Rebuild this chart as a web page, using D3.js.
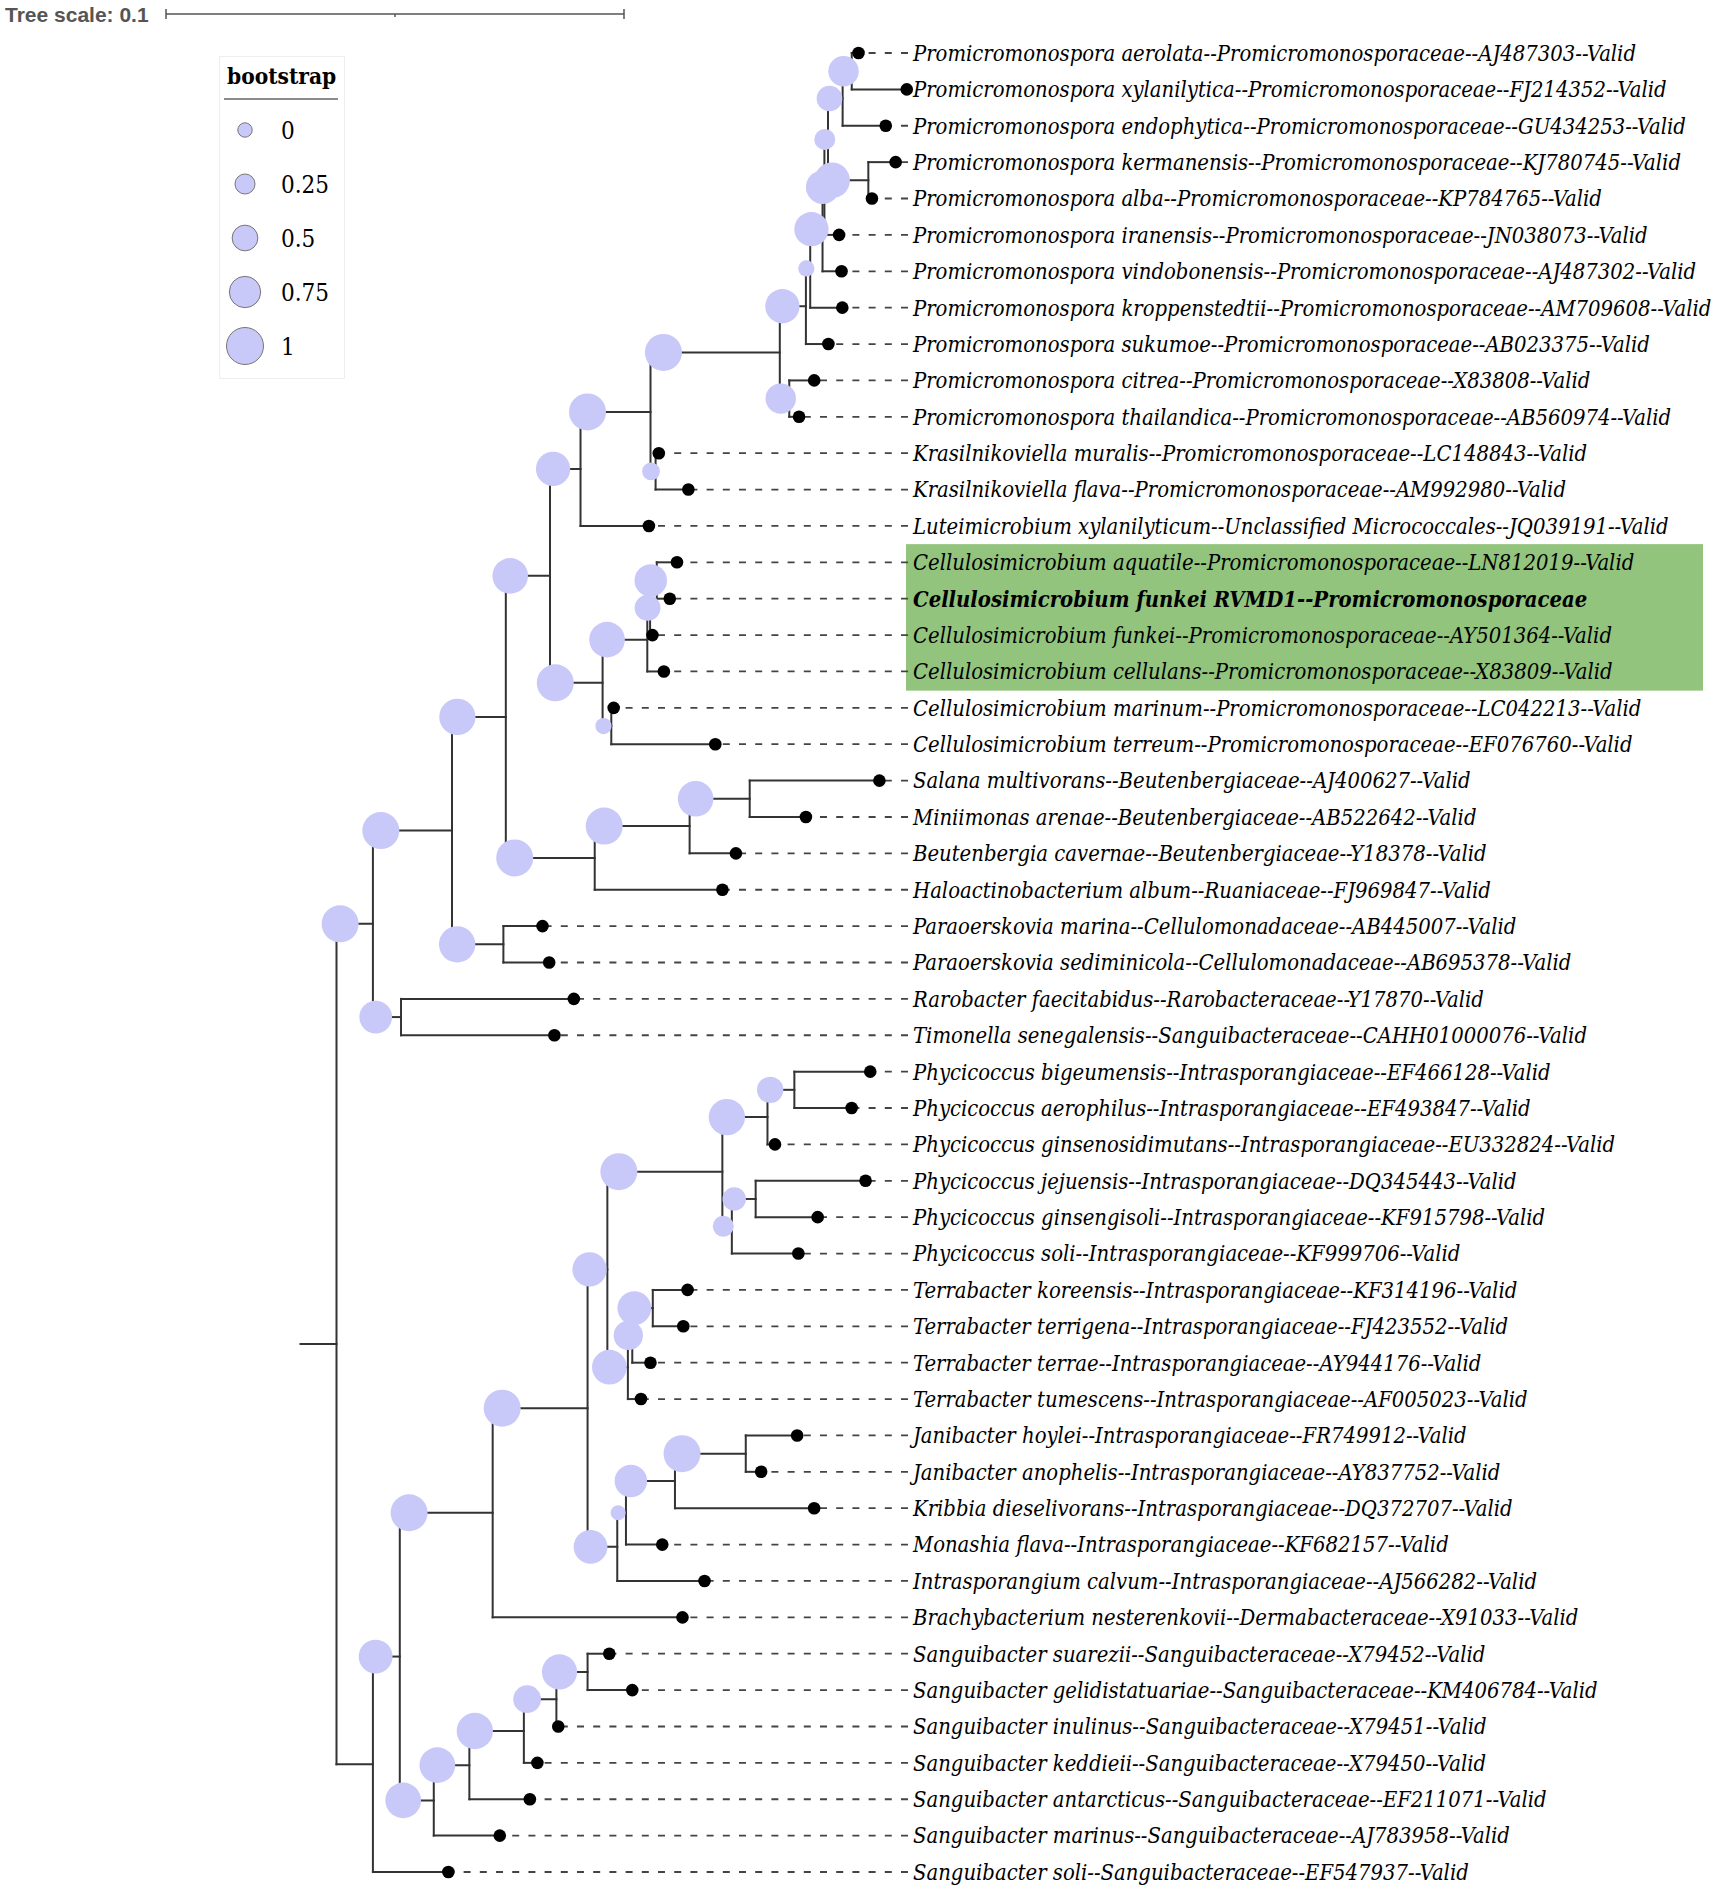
<!DOCTYPE html>
<html>
<head>
<meta charset="utf-8">
<script src="https://cdn.jsdelivr.net/npm/d3@7/dist/d3.min.js"></script>
<style>
  body { margin: 0; background: #fff; }
  .branch { stroke: #333; stroke-width: 2; fill: none; stroke-linecap: square; }
  .guide { stroke: #444; stroke-width: 1.8; stroke-dasharray: 7,9.2; }
  .label { font-family: "DejaVu Serif Condensed", "DejaVu Serif", serif; font-style: italic; font-stretch: condensed; font-size: 21.85px; }
  .legend text { font-family: "DejaVu Serif Condensed", "DejaVu Serif", serif; font-stretch: condensed; }
</style>
</head>
<body>
<svg id="canvas" width="1713" height="1891"></svg>
<script>
  // leaf labels, in tree order (leaf index = row)
  const leafLabels = [
    "Promicromonospora aerolata--Promicromonosporaceae--AJ487303--Valid",
    "Promicromonospora xylanilytica--Promicromonosporaceae--FJ214352--Valid",
    "Promicromonospora endophytica--Promicromonosporaceae--GU434253--Valid",
    "Promicromonospora kermanensis--Promicromonosporaceae--KJ780745--Valid",
    "Promicromonospora alba--Promicromonosporaceae--KP784765--Valid",
    "Promicromonospora iranensis--Promicromonosporaceae--JN038073--Valid",
    "Promicromonospora vindobonensis--Promicromonosporaceae--AJ487302--Valid",
    "Promicromonospora kroppenstedtii--Promicromonosporaceae--AM709608--Valid",
    "Promicromonospora sukumoe--Promicromonosporaceae--AB023375--Valid",
    "Promicromonospora citrea--Promicromonosporaceae--X83808--Valid",
    "Promicromonospora thailandica--Promicromonosporaceae--AB560974--Valid",
    "Krasilnikoviella muralis--Promicromonosporaceae--LC148843--Valid",
    "Krasilnikoviella flava--Promicromonosporaceae--AM992980--Valid",
    "Luteimicrobium xylanilyticum--Unclassified Micrococcales--JQ039191--Valid",
    "Cellulosimicrobium aquatile--Promicromonosporaceae--LN812019--Valid",
    "Cellulosimicrobium funkei RVMD1--Promicromonosporaceae",
    "Cellulosimicrobium funkei--Promicromonosporaceae--AY501364--Valid",
    "Cellulosimicrobium cellulans--Promicromonosporaceae--X83809--Valid",
    "Cellulosimicrobium marinum--Promicromonosporaceae--LC042213--Valid",
    "Cellulosimicrobium terreum--Promicromonosporaceae--EF076760--Valid",
    "Salana multivorans--Beutenbergiaceae--AJ400627--Valid",
    "Miniimonas arenae--Beutenbergiaceae--AB522642--Valid",
    "Beutenbergia cavernae--Beutenbergiaceae--Y18378--Valid",
    "Haloactinobacterium album--Ruaniaceae--FJ969847--Valid",
    "Paraoerskovia marina--Cellulomonadaceae--AB445007--Valid",
    "Paraoerskovia sediminicola--Cellulomonadaceae--AB695378--Valid",
    "Rarobacter faecitabidus--Rarobacteraceae--Y17870--Valid",
    "Timonella senegalensis--Sanguibacteraceae--CAHH01000076--Valid",
    "Phycicoccus bigeumensis--Intrasporangiaceae--EF466128--Valid",
    "Phycicoccus aerophilus--Intrasporangiaceae--EF493847--Valid",
    "Phycicoccus ginsenosidimutans--Intrasporangiaceae--EU332824--Valid",
    "Phycicoccus jejuensis--Intrasporangiaceae--DQ345443--Valid",
    "Phycicoccus ginsengisoli--Intrasporangiaceae--KF915798--Valid",
    "Phycicoccus soli--Intrasporangiaceae--KF999706--Valid",
    "Terrabacter koreensis--Intrasporangiaceae--KF314196--Valid",
    "Terrabacter terrigena--Intrasporangiaceae--FJ423552--Valid",
    "Terrabacter terrae--Intrasporangiaceae--AY944176--Valid",
    "Terrabacter tumescens--Intrasporangiaceae--AF005023--Valid",
    "Janibacter hoylei--Intrasporangiaceae--FR749912--Valid",
    "Janibacter anophelis--Intrasporangiaceae--AY837752--Valid",
    "Kribbia dieselivorans--Intrasporangiaceae--DQ372707--Valid",
    "Monashia flava--Intrasporangiaceae--KF682157--Valid",
    "Intrasporangium calvum--Intrasporangiaceae--AJ566282--Valid",
    "Brachybacterium nesterenkovii--Dermabacteraceae--X91033--Valid",
    "Sanguibacter suarezii--Sanguibacteraceae--X79452--Valid",
    "Sanguibacter gelidistatuariae--Sanguibacteraceae--KM406784--Valid",
    "Sanguibacter inulinus--Sanguibacteraceae--X79451--Valid",
    "Sanguibacter keddieii--Sanguibacteraceae--X79450--Valid",
    "Sanguibacter antarcticus--Sanguibacteraceae--EF211071--Valid",
    "Sanguibacter marinus--Sanguibacteraceae--AJ783958--Valid",
    "Sanguibacter soli--Sanguibacteraceae--EF547937--Valid"
  ];

  // newick: leaves are indices into leafLabels, internal labels are bootstrap
  const cladeMicrococcales =
    "((((((((((((((0:0.00148,1:0.01201)0.71:0.00199,2:0.00941)0.50:0.00319," +
    "(3:0.00596,4:0.00079)0.94:0.00880)0.29:0.00079,5:0.00321)0.85:0.00041," +
    "6:0.00415)0.88:0.00269,7:0.00701)0.08:0.00094,8:0.00491)0.88:0.00570," +
    "(9:0.00544,10:0.00214)0.71:0.00207)1.00:0.02823," +
    "(11:0.00070,12:0.00716)0.15:0.00111)1.00:0.01528,13:0.01493)0.88:0.00666," +
    "((((14:0.00441,15:0.00284)0.80:0.00146,16:0.00052)0.51:0.00061,17:0.00362)0.94:0.00976," +
    "(18:0.00052,19:0.02271)0.08:0.00190)1.00:0.01148)0.94:0.00965," +
    "(((20:0.02832,21:0.01227)0.94:0.01312,22:0.01011)1.00:0.02072,23:0.02788)1.00:0.01941)0.97:0.01175," +
    "(24:0.00854,25:0.01000)0.97:0.01122)1.00:0.01727," +
    "(26:0.03773,27:0.03349)0.81:0.00614)1.00:0.00795";
  const cladeIntrasporangiaceae =
    "((((((28:0.01657,29:0.01251)0.53:0.00587,30:0.00164)0.97:0.00985," +
    "((31:0.02400,32:0.01354)0.40:0.00520,33:0.01452)0.29:0.00207)1.00:0.02511," +
    "(((34:0.00760,35:0.00666)0.86:0.00448,36:0.00397)0.66:0.00096,37:0.00286)0.90:0.00448)0.88:0.00432," +
    "((((38:0.01122,39:0.00336)1.00:0.01546,40:0.03039)0.80:0.01070,41:0.00793)0.03:0.00190," +
    "42:0.01906)0.86:0.00648)1.00:0.02072,43:0.04144)1.00:0.02028";
  const cladeSanguibacter =
    "(((((44:0.00474,45:0.00976)0.92:0.00681,46:0.00041)0.59:0.00710,47:0.00295)0.97:0.01190," +
    "48:0.01321)0.94:0.00777,49:0.01441)0.94:0.00742";
  const treeNewick = "(" + cladeMicrococcales + ",((" + cladeIntrasporangiaceae + "," +
    cladeSanguibacter + ")0.86:0.00587,50:0.01648):0.00795):0.00786;";

  const legendValues = [0, 0.25, 0.5, 0.75, 1];
  const legendLabels = ["0", "0.25", "0.5", "0.75", "1"];
  const boldLeaves = [15];
  const highlightRows = [14, 17];
  const treeScaleTicks = [0, 0.05, 0.1];

  const svg = d3.select("svg");

  const xScale = d3.scaleLinear().domain([0, 0.1]).range([300.5, 758.5]);
  const yScale = d3.scaleLinear().domain([0, leafLabels.length - 1]).range([53, 1872]);
  const rScale = d3.scaleLinear().domain([0, 1]).range([7.2, 18.5]);
  const labelX = 913;

  const root = d3.hierarchy(parseNewick(treeNewick), d => d.children.length ? d.children : null);
  root.eachBefore(d => d.dist = (d.parent ? d.parent.dist : 0) + (d.data.length || 0));
  root.eachAfter(d => {
    d.row = d.children ? d3.mean(d.children, c => c.row) : d.data.leaf;
  });
  const px = d => xScale(d.dist);
  const py = d => yScale(d.row);
  const rowH = yScale(1) - yScale(0);

  // highlight band behind the Cellulosimicrobium labels
  svg.append("rect")
      .attr("x", 906)
      .attr("y", yScale(highlightRows[0]) - rowH / 2)
      .attr("width", 1703 - 906)
      .attr("height", yScale(highlightRows[1]) - yScale(highlightRows[0]) + rowH + 1)
      .attr("fill", "#93c47d");

  const tree = svg.append("g");

  // root stub
  tree.append("line").attr("class", "branch")
      .attr("x1", xScale(0)).attr("x2", px(root))
      .attr("y1", py(root)).attr("y2", py(root));

  tree.selectAll(".hbranch")
    .data(root.descendants().filter(d => d.parent))
    .join("line")
      .attr("class", "branch")
      .attr("x1", d => px(d.parent)).attr("x2", px)
      .attr("y1", py).attr("y2", py);

  tree.selectAll(".vbranch")
    .data(root.descendants().filter(d => d.children))
    .join("line")
      .attr("class", "branch")
      .attr("x1", px).attr("x2", px)
      .attr("y1", d => py(d.children[0]))
      .attr("y2", d => py(d.children[d.children.length - 1]));

  // dashed guides, drawn from the label side so the dashes line up
  tree.selectAll(".guide")
    .data(root.leaves().filter(d => px(d) < labelX - 12))
    .join("line")
      .attr("class", "guide")
      .attr("x1", labelX - 5).attr("x2", px)
      .attr("y1", py).attr("y2", py);

  // bootstrap symbols sit 10% along the branch
  tree.selectAll(".boot")
    .data(root.descendants().filter(d => d.parent && d.data.support != null))
    .join("circle")
      .attr("cx", d => px(d.parent) + 0.1 * (px(d) - px(d.parent)))
      .attr("cy", py)
      .attr("r", d => rScale(d.data.support))
      .attr("fill", "#c8c8f9");

  tree.selectAll(".tip")
    .data(root.leaves())
    .join("circle")
      .attr("cx", px).attr("cy", py)
      .attr("r", 6.3)
      .attr("fill", "#000");

  svg.append("g").selectAll("text")
    .data(root.leaves())
    .join("text")
      .attr("class", "label")
      .attr("x", labelX)
      .attr("y", py)
      .attr("dy", "0.36em")
      .attr("font-weight", d => boldLeaves.includes(d.data.leaf) ? "bold" : null)
      .text(d => leafLabels[d.data.leaf]);

  // legend
  const legend = svg.append("g").attr("class", "legend");
  legend.append("rect")
      .attr("x", 219.5).attr("y", 56.5).attr("width", 125).attr("height", 322)
      .attr("fill", "#fff").attr("stroke", "#eee");
  legend.append("text")
      .attr("x", 227).attr("y", 84)
      .attr("font-size", 22.5).attr("font-weight", "bold")
      .text("bootstrap");
  legend.append("line")
      .attr("x1", 224).attr("x2", 338).attr("y1", 99).attr("y2", 99)
      .attr("stroke", "#666").attr("stroke-width", 1.5);
  const items = legend.selectAll(".item")
    .data(legendValues)
    .join("g")
      .attr("transform", (d, i) => `translate(245,${130 + i * 54})`);
  items.append("circle")
      .attr("r", d => rScale(d))
      .attr("fill", "#c8c8f9").attr("stroke", "#777").attr("stroke-width", 1);
  items.append("text")
      .attr("x", 36).attr("dy", "0.36em")
      .attr("font-size", 24)
      .text((d, i) => legendLabels[i]);

  // tree scale bar
  const barScale = d3.scaleLinear().domain([0, 0.1]).range([166, 166 + xScale(0.1) - xScale(0)]);
  const bar = svg.append("g").attr("stroke", "#555").attr("stroke-width", 1.5);
  bar.append("line").attr("x1", barScale(0)).attr("x2", barScale(0.1)).attr("y1", 14).attr("y2", 14);
  bar.selectAll(".tick")
    .data(treeScaleTicks)
    .join("line")
      .attr("x1", barScale).attr("x2", barScale)
      .attr("y1", (d, i) => i === 1 ? 14 : 9)
      .attr("y2", (d, i) => i === 1 ? 17 : 19);
  svg.append("text")
      .attr("x", 5).attr("y", 21.5)
      .attr("font-family", "'Liberation Sans', Arial, sans-serif")
      .attr("font-weight", "bold").attr("font-size", 21)
      .attr("fill", "#555")
      .text("Tree scale: 0.1");

  function parseNewick(s) {
    let i = 0;
    function node() {
      const n = { children: [] };
      if (s[i] === "(") {
        i++;
        n.children.push(node());
        while (s[i] === ",") { i++; n.children.push(node()); }
        i++; // closing paren
      }
      let tok = "";
      while (i < s.length && !",():;".includes(s[i])) tok += s[i++];
      if (s[i] === ":") {
        i++;
        let len = "";
        while (i < s.length && !",();".includes(s[i])) len += s[i++];
        n.length = +len;
      }
      if (n.children.length) n.support = tok === "" ? null : +tok;
      else n.leaf = +tok;
      return n;
    }
    return node();
  }
</script>
</body>
</html>
